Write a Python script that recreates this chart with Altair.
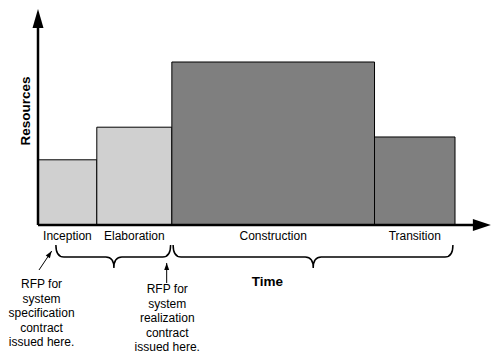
import math
import altair as alt
import pandas as pd

# ---------------- data ----------------
phases = ["Inception", "Elaboration", "Construction", "Transition"]
phase_start = [0.0, 14.1, 32.1, 80.7]      # time units
phase_end = [14.1, 32.1, 80.7, 100.0]
resources = [40, 60, 100, 54]             # resource units
shade = ["light", "light", "dark", "dark"]

brace_start = [4.3, 32.4]
brace_tip = [18.2, 66.0]
brace_end = [31.8, 99.5]

rfp_text = [
    "RFP for\nsystem\nspecification\ncontract\nissued here.",
    "RFP for\nsystem\nrealization\ncontract\nissued here.",
]
rfp_x = [0.85, 31.0]
rfp_y = [-36.2, -39.3]      # first-line position
arrow_tail_x = [0.24, 30.86]
arrow_tail_y = [-27.6, -35.6]
arrow_tip_x = [3.29, 30.86]
arrow_tip_y = [-15.95, -23.3]

x_axis_end = 108.6
y_axis_end = 132.5
axis_titles = ["Time", "Resources"]
axis_title_x = [55.0, -2.9]
axis_title_y = [-35.0, 69.9]

# ---------------- layout ----------------
W, H = 484, 347
PX_T, PX_R = 4.17, 1.63
OX, OY = 30, 217
FONT = "Liberation Sans"
XDOM = [-OX / PX_T, (W - OX) / PX_T]
YDOM = [(OY - H) / PX_R, OY / PX_R]
xs = alt.Scale(domain=XDOM, nice=False, zero=False)
ys = alt.Scale(domain=YDOM, nice=False, zero=False)


def X(f):
    return alt.X(f, type="quantitative", scale=xs, axis=None)


def Y(f):
    return alt.Y(f, type="quantitative", scale=ys, axis=None)


# bars
bars_df = pd.DataFrame({
    "phase": phases, "start": phase_start, "end": phase_end,
    "res": resources, "shade": shade, "base": [0] * 4,
})
bars_df["mid"] = (bars_df["start"] + bars_df["end"]) / 2

bars = alt.Chart(bars_df).mark_rect(stroke="black", strokeWidth=1).encode(
    x=X("start"), x2="end", y=Y("res"), y2="base",
    color=alt.Color("shade:N", scale=alt.Scale(domain=["light", "dark"],
                    range=["#d0d0d0", "#7f7f7f"]), legend=None),
)

labels = alt.Chart(bars_df).mark_text(
    font=FONT, fontSize=12, baseline="middle", dy=11, color="black"
).encode(x=X("mid"), y=Y("base"), text="phase:N")

# axes
axes_df = pd.DataFrame({
    "x": [0, 0], "y": [0, 0],
    "x2": [0, x_axis_end - 10 / PX_T], "y2": [y_axis_end - 10 / PX_R, 0],
})
axis_lines = alt.Chart(axes_df).mark_rule(color="black", strokeWidth=2.5).encode(
    x=X("x"), y=Y("y"), x2="x2", y2="y2")

heads_df = pd.DataFrame({
    "x": [0, x_axis_end], "y": [y_axis_end, 0],
    "shape": ["M0,0L-5.5,19L5.5,19Z", "M0,0L-18,-6L-18,6Z"],
})
axis_heads = alt.Chart(heads_df).mark_point(filled=True, opacity=1, color="black").encode(
    x=X("x"), y=Y("y"), shape=alt.Shape("shape:N", scale=None), size=alt.value(4))

# braces
TOP, MID, TIP, R = 20, 32, 43, 8
brace_paths = []
for s, t, e in zip(brace_start, brace_tip, brace_end):
    L = -(t - s) * PX_T
    Rr = (e - t) * PX_T
    brace_paths.append(
        f"M{L:.1f},{TOP} Q{L:.1f},{MID} {L + R:.1f},{MID} L{-R},{MID} "
        f"Q0,{MID} 0,{TIP} Q0,{MID} {R},{MID} L{Rr - R:.1f},{MID} "
        f"Q{Rr:.1f},{MID} {Rr:.1f},{TOP}"
    )
brace_df = pd.DataFrame({"x": brace_tip, "y": [0, 0], "shape": brace_paths})
braces = alt.Chart(brace_df).mark_point(filled=False, opacity=1, color="black", strokeWidth=1.5).encode(
    x=X("x"), y=Y("y"), shape=alt.Shape("shape:N", scale=None), size=alt.value(4))

# annotation arrows
arr_df = pd.DataFrame({"x": arrow_tail_x, "y": arrow_tail_y, "x2": arrow_tip_x, "y2": arrow_tip_y})
arr_df["ang"] = [
    math.degrees(math.atan2((bx - ax) * PX_T, (by - ay) * PX_R))
    for ax, ay, bx, by in zip(arrow_tail_x, arrow_tail_y, arrow_tip_x, arrow_tip_y)
]
arr_df["shape"] = "M0,0L-2.5,7L2.5,7Z"
arrow_lines = alt.Chart(arr_df).mark_rule(color="black", strokeWidth=1).encode(
    x=X("x"), y=Y("y"), x2="x2", y2="y2")
arrow_heads = alt.Chart(arr_df).mark_point(filled=True, opacity=1, color="black").encode(
    x=X("x2"), y=Y("y2"), shape=alt.Shape("shape:N", scale=None),
    angle=alt.Angle("ang:Q", scale=None), size=alt.value(4))

# annotation texts
rfp_df = pd.DataFrame({"x": rfp_x, "y": rfp_y, "t": rfp_text})
rfp = alt.Chart(rfp_df).mark_text(
    font=FONT, fontSize=12, lineBreak="\n", lineHeight=14.5, baseline="middle",
    align="center", color="black",
).encode(x=X("x"), y=Y("y"), text="t:N")

# axis titles
titles_df = pd.DataFrame({"x": axis_title_x, "y": axis_title_y, "t": axis_titles, "ang": [0, 270]})
titles = alt.Chart(titles_df).mark_text(
    font=FONT, fontSize=13.5, fontWeight="bold", baseline="middle", align="center", color="black"
).encode(x=X("x"), y=Y("y"), text="t:N", angle=alt.Angle("ang:Q", scale=None))

chart = alt.layer(
    bars, labels, axis_lines, axis_heads, braces, arrow_lines, arrow_heads, rfp, titles
).properties(
    width=W, height=H, padding=0, autosize=alt.AutoSizeParams(type="none"),
    background="white",
).configure_view(stroke=None)

chart.save("out.html", embed_options={"renderer": "svg", "actions": False})
